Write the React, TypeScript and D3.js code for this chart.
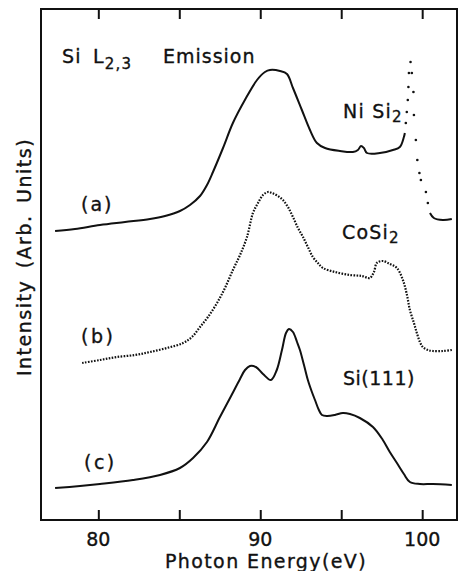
import { useEffect, useRef } from 'react';
import * as d3 from 'd3';

// photon energy (eV), intensity (arb. units, offset per curve)
const nisi2: [number, number][] = [
  [77.33, 28.9], [78.56, 29.1], [80.1, 29.5], [81.65, 29.8], [83.19, 30.1], [84.12, 30.4],
  [85.04, 30.9], [85.66, 31.5], [86.28, 32.4], [86.71, 33.5], [87.08, 34.8], [87.7, 37.2],
  [88.31, 39.7], [89.05, 42.0], [89.8, 44.0], [90.29, 44.8], [90.6, 45.0], [91.22, 44.9],
  [91.65, 44.6], [92.02, 43.2], [92.57, 41.0], [93.07, 39.0], [93.5, 37.7], [94.0, 37.2],
  [94.92, 36.9], [95.72, 36.8], [96.03, 37.0], [96.22, 37.4], [96.4, 37.2], [96.59, 36.7],
  [97.39, 36.7], [98.19, 37.0], [98.62, 37.3], [98.87, 38.3], [98.93, 38.7],
  [98.99, 39.7], [99.05, 40.8], [99.11, 42.0], [99.15, 43.3], [99.18, 44.7], [99.28, 45.8],
  [99.36, 44.7], [99.46, 42.8], [99.49, 40.5], [99.61, 38.0], [99.7, 36.0], [99.83, 34.7],
  [99.92, 34.0], [100.23, 32.8], [100.35, 31.7],
  [100.48, 30.7], [100.72, 30.2], [101.28, 30.0], [101.83, 30.1],
];

const cosi2: [number, number][] = [
  [79.0, 15.7], [80.1, 16.0], [81.15, 16.3], [82.27, 16.5], [83.19, 16.8], [84.24, 17.2],
  [85.23, 17.7], [85.78, 18.3], [86.28, 19.3], [86.77, 20.3], [87.33, 21.7], [87.82, 23.2],
  [88.31, 25.0], [88.75, 26.5], [89.18, 28.3], [89.55, 30.7], [89.86, 31.7], [90.17, 32.5],
  [90.48, 32.8], [90.72, 32.7], [91.09, 32.4], [91.4, 32.0], [91.71, 31.3], [92.02, 30.3],
  [92.33, 29.2], [92.64, 28.3], [92.94, 27.3], [93.25, 26.3], [93.56, 25.7], [93.87, 25.2],
  [94.61, 24.8], [95.54, 24.5], [96.28, 24.4], [96.77, 24.2], [97.02, 24.8], [97.2, 25.7],
  [97.57, 25.9], [98.0, 25.6], [98.44, 25.2], [98.81, 24.0], [99.06, 22.5], [99.24, 21.0],
  [99.49, 19.7], [99.67, 18.7], [99.86, 17.8], [100.04, 17.3], [100.35, 17.0], [100.66, 16.9],
  [101.28, 16.9], [101.83, 17.0],
];

const si111: [number, number][] = [
  [77.33, 3.2], [78.87, 3.4], [80.1, 3.6], [82.14, 4.0], [83.81, 4.5], [85.04, 5.2],
  [85.85, 6.2], [86.71, 7.8], [87.51, 10.3], [88.2, 12.4], [88.75, 14.1],
  [89.06, 15.0], [89.36, 15.4], [89.73, 15.3], [90.17, 14.6], [90.66, 14.0], [91.02, 15.0],
  [91.34, 17.0], [91.59, 18.7], [91.77, 19.1], [92.02, 18.8], [92.27, 17.8], [92.45, 17.0],
  [92.7, 15.5], [92.94, 14.0], [93.19, 12.8], [93.38, 12.0], [93.62, 11.0], [93.81, 10.5],
  [94.12, 10.4], [94.61, 10.5], [95.1, 10.7], [95.54, 10.6], [96.15, 10.2], [96.96, 9.3],
  [97.57, 8.0], [98.0, 6.8], [98.44, 5.7], [98.87, 4.6], [99.24, 3.8], [99.86, 3.6],
  [100.66, 3.6], [101.83, 3.5],
];

const xTicks = [80, 85, 90, 95, 100];
const xTickLabels = [80, 90, 100];

const W = 460;
const H = 571;

export default function App() {
  const ref = useRef<SVGSVGElement>(null);

  useEffect(() => {
    const svg = d3.select(ref.current);
    svg.selectAll('*').remove();

    const left = 41, right = 457, top = 9, bottom = 520;
    const x = d3.scaleLinear().domain([76.46, 102.15]).range([left, right]);
    const y = d3.scaleLinear().domain([0, 51.1]).range([bottom, top]);
    const ink = '#111';
    const font = "'DejaVu Sans', sans-serif";

    svg.append('rect').attr('width', W).attr('height', H).attr('fill', '#fff');

    // frame
    svg.append('rect')
      .attr('x', left).attr('y', top)
      .attr('width', right - left).attr('height', bottom - top)
      .attr('fill', 'none').attr('stroke', ink).attr('stroke-width', 2);

    const bottomAxis = d3.axisBottom(x).tickValues(xTicks).tickSize(-10).tickFormat(() => '');
    svg.append('g').attr('transform', `translate(0,${bottom})`).call(bottomAxis)
      .call(g => g.select('.domain').remove())
      .call(g => g.selectAll('line').attr('stroke', ink).attr('stroke-width', 2));

    const topAxis = d3.axisTop(x).tickValues(xTicks).tickSize(-10).tickFormat(() => '');
    svg.append('g').attr('transform', `translate(0,${top})`).call(topAxis)
      .call(g => g.select('.domain').remove())
      .call(g => g.selectAll('line').attr('stroke', ink).attr('stroke-width', 2));

    const txt = (sel: d3.Selection<SVGTextElement, any, any, any>, size: number) =>
      sel.attr('font-family', font).attr('font-size', size).attr('fill', ink)
        .attr('stroke', ink).attr('stroke-width', 0.35);

    svg.append('g').selectAll<SVGTextElement, number>('text').data(xTickLabels).join('text')
      .attr('x', d => x(d)).attr('y', 546)
      .attr('text-anchor', 'middle')
      .call(s => txt(s, 19))
      .text(d => d);

    svg.append('text')
      .attr('x', 266).attr('y', 568).attr('text-anchor', 'middle')
      .call(s => txt(s, 19)).attr('letter-spacing', 1.4)
      .text('Photon Energy(eV)');

    svg.append('text')
      .attr('transform', 'translate(31,257) rotate(-90)').attr('text-anchor', 'middle')
      .call(s => txt(s, 19)).attr('letter-spacing', 1.5).attr('word-spacing', 4)
      .text('Intensity (Arb. Units)');

    // curves
    const line = d3.line<[number, number]>().x(d => x(d[0])).y(d => y(d[1]))
      .curve(d3.curveCatmullRom.alpha(0.5));
    const spike = (d: [number, number]) => d[0] > 98.95 && d[0] < 100.45;

    svg.append('path')
      .attr('d', line.defined(d => !spike(d))(nisi2) as string)
      .attr('fill', 'none').attr('stroke', ink).attr('stroke-width', 2)
      .attr('stroke-linejoin', 'round');
    line.defined(() => true);

    svg.append('g').selectAll('circle').data(nisi2.filter(spike)).join('circle')
      .attr('cx', d => x(d[0])).attr('cy', d => y(d[1])).attr('r', 1.3).attr('fill', ink);

    svg.append('path')
      .attr('d', line(cosi2) as string)
      .attr('fill', 'none').attr('stroke', ink).attr('stroke-width', 2.2)
      .attr('stroke-dasharray', '1.6 1.4');

    svg.append('path')
      .attr('d', line(si111) as string)
      .attr('fill', 'none').attr('stroke', ink).attr('stroke-width', 2)
      .attr('stroke-linejoin', 'round');

    // labels
    const label = (tx: number, ty: number) =>
      svg.append('text').attr('x', tx).attr('y', ty)
        .call(s => txt(s, 19)).attr('letter-spacing', 1.2);

    label(62, 63).text('Si');
    const l23 = label(93, 63);
    l23.append('tspan').text('L');
    l23.append('tspan').attr('dy', 6).attr('font-size', 15).text('2,3');
    label(163, 63).attr('letter-spacing', 1).text('Emission');

    const ni = label(343, 118);
    ni.append('tspan').text('Ni Si');
    ni.append('tspan').attr('dy', 4).attr('font-size', 15).text('2');

    const co = label(342, 239);
    co.append('tspan').text('CoSi');
    co.append('tspan').attr('dy', 4).attr('font-size', 15).text('2');

    label(343, 385).attr('letter-spacing', 0.5).text('Si(111)');
    label(81, 211).attr('letter-spacing', 2).text('(a)');
    label(81, 343).attr('letter-spacing', 2.5).text('(b)');
    label(84, 469).attr('letter-spacing', 2.5).text('(c)');
  }, []);

  return (
    <svg ref={ref} width={W} height={H}
      style={{ position: 'absolute', left: 0, top: 0, display: 'block' }} />
  );
}
